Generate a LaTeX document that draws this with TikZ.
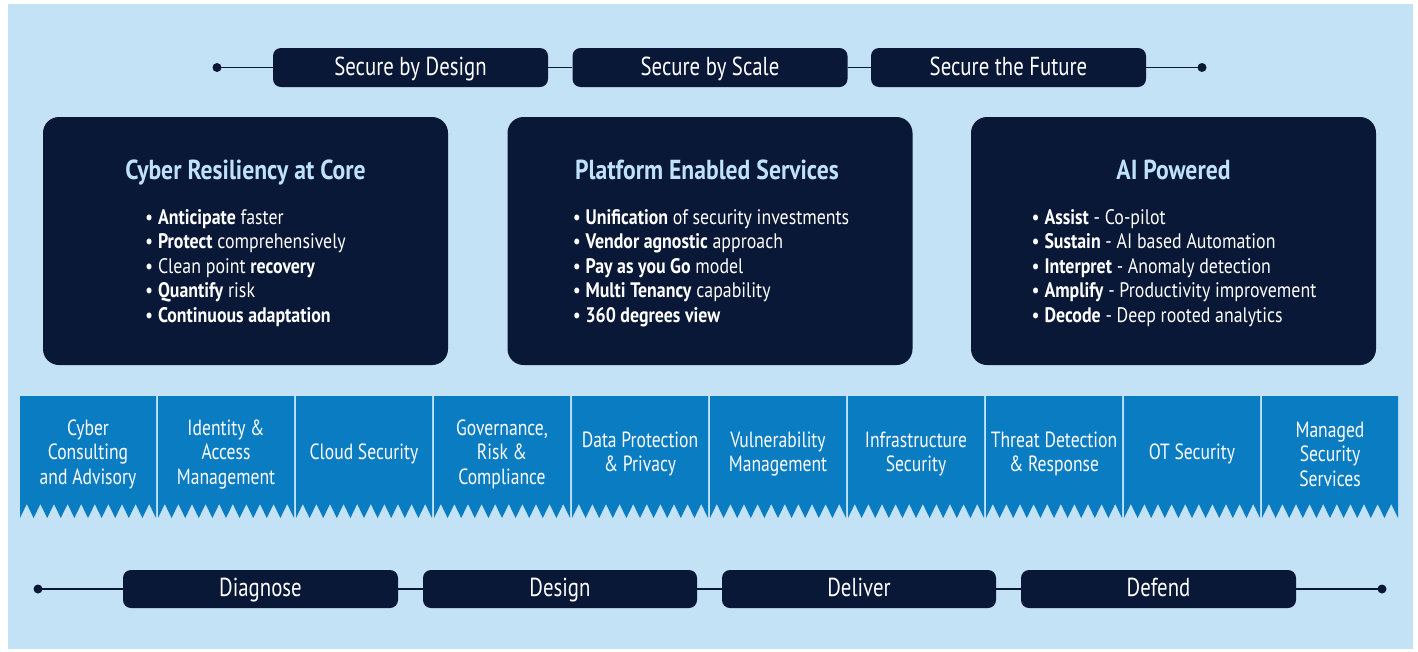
\documentclass[tikz,border=0pt]{standalone}
\usepackage{fontspec}
\setmainfont{PT Sans}[FakeStretch=0.8]
\newfontfamily\titlefont{PT Sans}[FakeStretch=0.86]
\newfontfamily\bulletfont{PT Sans}[FakeStretch=0.85]
\definecolor{navy}{HTML}{0A1837}
\definecolor{bgblue}{HTML}{C3E2F6}
\definecolor{svcblue}{HTML}{0A7CC2}
\definecolor{ttlblue}{HTML}{BFE2F8}
\tikzset{
  pill/.style={fill=navy, rounded corners=8pt, minimum width=275pt, minimum height=39pt, inner sep=0pt, text=white, font=\fontsize{26}{29}\selectfont, text height=18.2pt, text depth=3.2pt},
  bigbox/.style={fill=navy, rounded corners=16pt, minimum width=405pt, minimum height=248pt, inner sep=0pt},
  boxtitle/.style={text=ttlblue, font=\titlefont\bfseries\fontsize{27.5}{30}\selectfont, inner sep=0pt, anchor=base},
  bullets/.style={text=white, align=left, inner sep=0pt, font=\bulletfont\fontsize{21}{24.4}\selectfont},
  svctext/.style={text=white, align=center, inner sep=0pt, font=\fontsize{22}{24.5}\selectfont},
  conn/.style={draw=navy, line width=1.6pt},
  enddot/.style={fill=navy}
}
\begin{document}
\begin{tikzpicture}[x=1pt,y=-1pt]
\useasboundingbox (0,0) rectangle (1418,651);
\fill[white] (0,0) rectangle (1418,651);
\fill[bgblue] (8,4) rectangle (1413,649);

% top bar
\coordinate (tl) at (217,67.5);
\coordinate (tr) at (1202,67.5);
\node[pill] (p1) at (410.5,67.5) {Secure by Design};
\node[pill] (p2) at (710,67.5) {Secure by Scale};
\node[pill] (p3) at (1008.5,67.5) {Secure the Future};
\draw[conn] (tl) -- (p1.west);
\draw[conn] (p1.east) -- (p2.west);
\draw[conn] (p2.east) -- (p3.west);
\draw[conn] (p3.east) -- (tr);
\fill[enddot] (tl) circle (4.5);
\fill[enddot] (tr) circle (4.5);

% big boxes
\node[bigbox] (b1) at (245.5,241) {};
\node[bigbox] (b2) at (710,241) {};
\node[bigbox] (b3) at (1173.5,241) {};
\node[boxtitle] (t1) at (245.5,179.5) {Cyber Resiliency at Core};
\node[boxtitle] (t2) at (707,179.5) {Platform Enabled Services};
\node[boxtitle] (t3) at (1173.5,179.5) {AI Powered};
\node[bullets] (l1) at (245.5,268) {\textbullet\ \textbf{Anticipate} faster\\
\textbullet\ \textbf{Protect} comprehensively\\
\textbullet\ Clean point \textbf{recovery}\\
\textbullet\ \textbf{Quantify} risk\\
\textbullet\ \textbf{Continuous adaptation}};
\node[bullets] (l2) at (711,268) {\textbullet\ \textbf{Unification} of security investments\\
\textbullet\ \textbf{Vendor agnostic} approach\\
\textbullet\ \textbf{Pay as you Go} model\\
\textbullet\ \textbf{Multi Tenancy} capability\\
\textbullet\ \textbf{360 degrees view}};
\node[bullets] (l3) at (1174,268) {\textbullet\ \textbf{Assist} - Co-pilot\\
\textbullet\ \textbf{Sustain} - AI based Automation\\
\textbullet\ \textbf{Interpret} - Anomaly detection\\
\textbullet\ \textbf{Amplify} - Productivity improvement\\
\textbullet\ \textbf{Decode} - Deep rooted analytics};

% service strip
\foreach \i/\t in {0/{Cyber\\Consulting\\and Advisory},
                   1/{Identity \&\\Access\\Management},
                   2/{Cloud Security},
                   3/{Governance,\\Risk \&\\Compliance},
                   4/{Data Protection\\\& Privacy},
                   5/{Vulnerability\\Management},
                   6/{Infrastructure\\Security},
                   7/{Threat Detection\\\& Response},
                   8/{OT Security},
                   9/{Managed\\Security\\Services}}{
  \pgfmathsetmacro{\l}{20+138*\i}
  \pgfmathsetmacro{\r}{\l+136}
  \fill[svcblue] (\l,396) -- (\r,396) -- (\r,518)
     \foreach \k in {1,...,10}{ -- ++(-6.8,-14) -- ++(-6.8,14) } -- cycle;
  \node[svctext] (s\i) at (\l+68,454) {\t};
}

% bottom bar
\coordinate (bl) at (38,589);
\coordinate (br) at (1382,589);
\node[pill, minimum height=38pt] (q1) at (260.5,589) {Diagnose};
\node[pill, minimum height=38pt, minimum width=274pt] (q2) at (560,589) {Design};
\node[pill, minimum height=38pt, minimum width=274pt] (q3) at (859,589) {Deliver};
\node[pill, minimum height=38pt] (q4) at (1158.5,589) {Defend};
\draw[conn] (bl) -- (q1.west);
\draw[conn] (q1.east) -- (q2.west);
\draw[conn] (q2.east) -- (q3.west);
\draw[conn] (q3.east) -- (q4.west);
\draw[conn] (q4.east) -- (br);
\fill[enddot] (bl) circle (4.5);
\fill[enddot] (br) circle (4.5);
\end{tikzpicture}
\end{document}
